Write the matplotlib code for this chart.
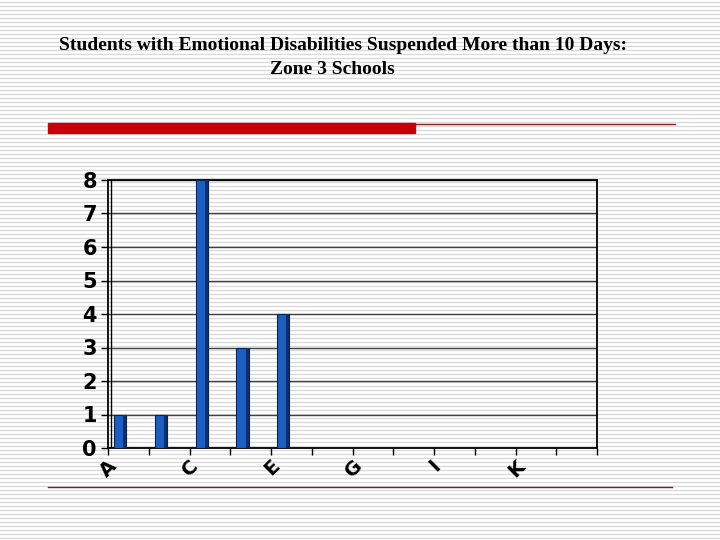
import numpy as np
import matplotlib
matplotlib.use("Agg")
import matplotlib.pyplot as plt
from matplotlib.patches import Rectangle

# data
schools = ["A", "B", "C", "D", "E", "F", "G", "H", "I", "J", "K", "L"]
suspended = [1, 1, 8, 3, 4, 0, 0, 0, 0, 0, 0, 0]
shown_labels = ["A", "C", "E", "G", "I", "K"]
title_1 = "Students with Emotional Disabilities Suspended More than 10 Days:"
title_2 = "Zone 3 Schools"

W, H = 720, 540
fig = plt.figure(figsize=(7.2, 5.4), dpi=100)

# slide background: thin grey stripes
bg = fig.add_axes([0, 0, 1, 1], zorder=0)
bg.set_xlim(0, W)
bg.set_ylim(H, 0)
bg.axis("off")
for y in np.arange(1.5, H, 4):
    bg.axhline(y, color="#d8d8d8", lw=0.9)
bg.add_patch(Rectangle((48, 123), 367, 9.5, color="#c8000a", zorder=3))
bg.plot([415, 675], [123.5, 123.5], color="#8b1a1a", lw=1, zorder=3)
bg.plot([48, 672], [486.5, 486.5], color="#7a1f2a", lw=1, zorder=3)

fig.text(343 / W, 1 - 46 / H, title_1, family="Liberation Serif", weight="bold",
         fontsize=14, ha="center", va="center")
fig.text(332 / W, 1 - 70 / H, title_2, family="Liberation Serif", weight="bold",
         fontsize=14, ha="center", va="center")

# chart
left, right, top, bottom = 108, 597, 180, 448
ax = fig.add_axes([left / W, 1 - bottom / H, (right - left) / W, (bottom - top) / H], zorder=1)
ax.set_facecolor("none")
x = np.arange(len(schools))
ax.bar(x + 0.15, suspended, width=0.3, align="edge", color="#1c5fc4",
       edgecolor="#0a2250", lw=0.8, zorder=3)
ax.bar(x + 0.38, suspended, width=0.07, align="edge", color="#0d2f6e", lw=0, zorder=4)

ax.set_xlim(0, len(schools))
ax.set_ylim(0, 8)
ax.set_yticks(range(9))
ax.set_yticklabels([str(i) for i in range(9)], fontsize=15, weight="heavy")
ax.yaxis.grid(True, color="#404040", lw=1)
ax.set_axisbelow(True)
ax.set_xticks(range(len(schools) + 1))
ax.set_xticklabels([])
ax.tick_params(axis="both", direction="out", length=5, width=1, color="black", pad=3)
for s in ax.spines.values():
    s.set_color("black")
    s.set_linewidth(1.3)
ax.axvline(0.07, color="black", lw=1)

for i, name in enumerate(schools):
    if name in shown_labels:
        ax.text(i + 0.02, -0.25, name, rotation=45, fontsize=14, weight="heavy",
                ha="center", va="top", rotation_mode="default")

fig.savefig("out.png", dpi=100)
